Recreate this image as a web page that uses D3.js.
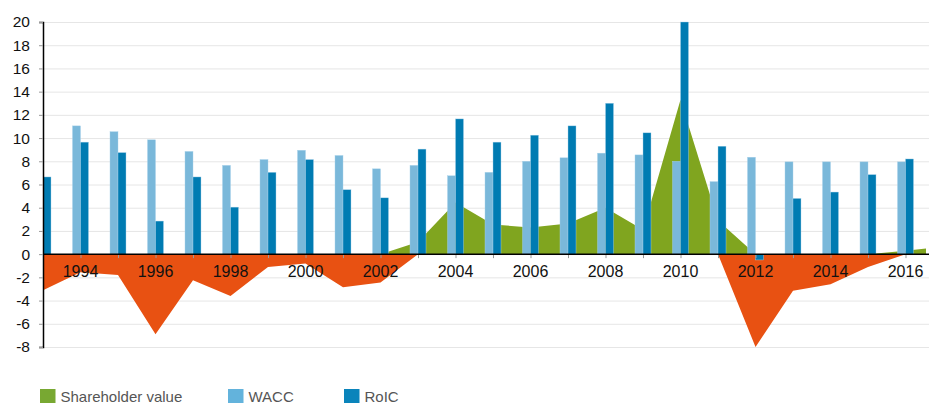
<!DOCTYPE html>
<html>
<head>
<meta charset="utf-8">
<script src="https://cdn.jsdelivr.net/npm/d3@7"></script>
<style>
  body { margin: 0; background: #fff; }
  svg { display: block; font-family: "Liberation Sans", Arial, Helvetica, sans-serif; }
</style>
</head>
<body>
<svg id="chart" width="929" height="403"></svg>
<script>
// values
var years = [1993, 1994, 1995, 1996, 1997, 1998, 1999, 2000, 2001, 2002, 2003, 2004,
             2005, 2006, 2007, 2008, 2009, 2010, 2011, 2012, 2013, 2014, 2015, 2016];
var wacc = [null, 11.05, 10.55, 9.85, 8.85, 7.65, 8.15, 8.95, 8.5, 7.35, 7.65, 6.75,
            7.05, 8.0, 8.3, 8.7, 8.55, 8.0, 6.25, 8.35, 7.95, 7.95, 7.95, 7.95];
var roic = [6.65, 9.65, 8.75, 2.85, 6.65, 4.05, 7.05, 8.15, 5.55, 4.85, 9.05, 11.65,
            9.65, 10.25, 11.05, 13.0, 10.45, 20.0, 9.3, -0.5, 4.8, 5.35, 6.85, 8.2];
// shareholder value runs one point past the last bar year
var svYears = years.concat([2017]);
var shareholder = [-3.1, -1.55, -1.8, -6.9, -2.25, -3.6, -1.1, -0.8, -2.85, -2.45, 1.05, 4.45,
                   2.55, 2.3, 2.65, 4.0, 2.1, 13.3, 2.9, -8.0, -3.15, -2.6, -1.1, 0.3, 0.65];
var yTicks = [-8, -6, -4, -2, 0, 2, 4, 6, 8, 10, 12, 14, 16, 18, 20];
var labelYears = [1994, 1996, 1998, 2000, 2002, 2004, 2006, 2008, 2010, 2012, 2014, 2016];
var legendItems = ["Shareholder value", "WACC", "RoIC"];

var colGreen = "#80a51f", colOrange = "#e85112", colLight = "#7ab8da", colDark = "#007bb2";

var svg = d3.select("#chart");
var plotL = 43, plotR = 926, plotT = 22, plotB = 347;

var x = d3.scaleLinear().domain([1993, 2016]).range([plotL, plotL + 23 * 37.5]);
var y = d3.scaleLinear().domain([-8, 20]).range([plotB, plotT]);
var barW = 8;

svg.append("clipPath").attr("id", "plot")
  .append("rect").attr("x", plotL).attr("y", 0).attr("width", plotR - plotL).attr("height", 403);

// grid
svg.append("g").selectAll("line").data(yTicks).enter().append("line")
  .attr("x1", plotL).attr("x2", 929)
  .attr("y1", function(d) { return y(d) + 0.5; }).attr("y2", function(d) { return y(d) + 0.5; })
  .attr("stroke", "#e6e6e6").attr("stroke-width", 1);

var plot = svg.append("g").attr("clip-path", "url(#plot)");

// shareholder value: positive part green, negative part orange
var svData = shareholder.map(function(v, i) { return {year: svYears[i], v: v}; });
var posArea = d3.area()
  .x(function(d) { return x(d.year); })
  .y0(y(0))
  .y1(function(d) { return y(Math.max(d.v, 0)); });
var negArea = d3.area()
  .x(function(d) { return x(d.year); })
  .y0(y(0))
  .y1(function(d) { return y(Math.min(d.v, 0)); });
plot.append("path").attr("d", negArea(svData)).attr("fill", colOrange);
plot.append("path").attr("d", posArea(svData)).attr("fill", colGreen);

// bars
function bars(vals, offset, color) {
  plot.append("g").selectAll("rect")
    .data(vals.map(function(v, i) { return {year: years[i], v: v}; })
              .filter(function(d) { return d.v != null; }))
    .enter().append("rect")
    .attr("x", function(d) { return x(d.year) + offset; })
    .attr("width", barW)
    .attr("y", function(d) { return y(Math.max(d.v, 0)); })
    .attr("height", function(d) { return Math.abs(y(d.v) - y(0)); })
    .attr("fill", color)
    .attr("stroke", "#a9d3ea").attr("stroke-width", 0.4);
}
bars(wacc, -barW, colLight);
bars(roic, 0, colDark);

// x axis (at zero)
var xAxis = d3.axisBottom(x).tickValues(years).tickSize(4).tickFormat("");
var gx = svg.append("g").attr("transform", "translate(0," + y(0) + ")").call(xAxis);
gx.select(".domain").remove();
gx.selectAll(".tick line").attr("stroke", "#999");
svg.append("line").attr("x1", plotL).attr("x2", 929).attr("y1", y(0)).attr("y2", y(0))
  .attr("stroke", "#000").attr("stroke-width", 1.5);
svg.append("g").selectAll("text").data(labelYears).enter().append("text")
  .attr("x", function(d) { return x(d); }).attr("y", y(0) + 23)
  .attr("text-anchor", "middle").attr("font-size", "16px").attr("fill", "#111")
  .text(function(d) { return d; });

// y axis
var yAxis = d3.axisLeft(y).tickValues(yTicks).tickSize(4).tickPadding(9)
  .tickFormat(function(d) { return String(d); });
var gy = svg.append("g").attr("transform", "translate(" + plotL + ",0)").call(yAxis);
gy.select(".domain").attr("stroke", "#000").attr("stroke-width", 1.5);
gy.selectAll(".tick line").attr("stroke", "#999");
gy.selectAll(".tick text").attr("font-size", "15.5px").attr("fill", "#111")
  .attr("font-family", "Liberation Sans, Arial, sans-serif");

// legend
var legX = [40, 228, 344];
var legCol = ["#78a832", "#63b3dc", "#0a84bb"];
var leg = svg.append("g").selectAll("g").data(legendItems).enter().append("g")
  .attr("transform", function(d, i) { return "translate(" + legX[i] + ",389)"; });
leg.append("rect").attr("width", 15.5).attr("height", 14)
  .attr("fill", function(d, i) { return legCol[i]; });
leg.append("text").attr("x", 20.5).attr("y", 12.5).attr("font-size", "15px")
  .attr("fill", "#555").text(function(d) { return d; });
</script>
</body>
</html>
